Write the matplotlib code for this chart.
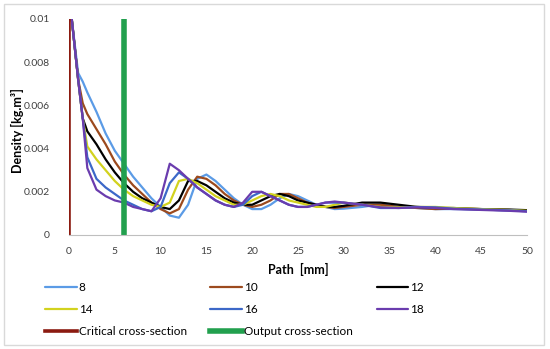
import matplotlib
matplotlib.use("Agg")
import matplotlib.pyplot as plt
from matplotlib.patches import Rectangle
from matplotlib.ticker import FuncFormatter

plt.rcParams["font.family"] = ["Lato", "DejaVu Sans"]

# path along the nozzle [mm]
path_mm = [0.3, 1, 1.5, 2, 3, 4, 5, 6, 7, 8, 9, 10, 11, 12, 13, 14, 15, 16, 17, 18,
           19, 20, 21, 22, 23, 24, 25, 26, 27, 28, 29, 30, 32, 34, 36, 38, 40, 42, 45, 48, 50]

dens_8 = [.0100, .0075, .0071, .0066, .0057, .0047, .0039, .0033, .0027, .0022, .0017, .0013, .0009,
          .0008, .0014, .0026, .0028, .0025, .0021, .0017, .0014, .0012, .0012, .0014, .0017, .0019,
          .0018, .0016, .0014, .0013, .0012, .00122, .0013, .00142, .0013, .00125, .0012, .0012,
          .00118, .00114, .0011]
dens_10 = [.0100, .0072, .0061, .0056, .0049, .0042, .0034, .0028, .0023, .0019, .0015, .0012, .0010,
           .0012, .0021, .0027, .0026, .0023, .0019, .0016, .0014, .0013, .0014, .0016, .0019, .0019,
           .0017, .0015, .0014, .0013, .00125, .0013, .0014, .0014, .0013, .00125, .0012, .00122,
           .0012, .00116, .00112]
dens_12 = [.0100, .0072, .0054, .0048, .0042, .0035, .0029, .0024, .0020, .0017, .0015, .0013, .0012,
           .0016, .0025, .0025, .0023, .0020, .0017, .0015, .0014, .0014, .0016, .0018, .0019, .0018,
           .0016, .0015, .0014, .0013, .0013, .00135, .0015, .0015, .0014, .0013, .00125, .00125,
           .0012, .00118, .00115]
dens_14 = [.0100, .0072, .0054, .0041, .0035, .0030, .0025, .0021, .0018, .0016, .0014, .0013, .0015,
           .0025, .0026, .0024, .0021, .0018, .0016, .0014, .0014, .0016, .0018, .0019, .0018, .0016,
           .0015, .0014, .0013, .0013, .0014, .0015, .0014, .0013, .00128, .0013, .0013, .00125,
           .0012, .00116, .00112]
dens_16 = [.0100, .0072, .0054, .0036, .0026, .0022, .0019, .0016, .0014, .0012, .0011, .0013, .0024,
           .0029, .0026, .0022, .0019, .0016, .0014, .0013, .0014, .0018, .0020, .0018, .0016, .0014,
           .0013, .0013, .0014, .0015, .0015, .0015, .0014, .00125, .00125, .0013, .00128, .00122,
           .00118, .00114, .0011]
dens_18 = [.0100, .0072, .0054, .0031, .0021, .0018, .0016, .0015, .0013, .0012, .0011, .0017, .0033,
           .0030, .0026, .0022, .0019, .0016, .0014, .0013, .0015, .0020, .0020, .0018, .0016, .0014,
           .0013, .0013, .0014, .0015, .00155, .0015, .0014, .00128, .00125, .00128, .00125, .0012,
           .00116, .00112, .00108]

series = {"8": dens_8, "10": dens_10, "12": dens_12, "14": dens_14, "16": dens_16, "18": dens_18}
colors = {"8": "#5b9be6", "10": "#9c4a1e", "12": "#000000",
          "14": "#d2d21e", "16": "#3c68c8", "18": "#6a3cae"}

critical_x = [0, 0]
output_x = [6, 6]
section_y = [0, 0.01]

fig = plt.figure(figsize=(5.5, 3.49), dpi=100)
ax = fig.add_axes([69 / 550, 1 - 235 / 349, (527 - 69) / 550, (235 - 19) / 349])

handles = {}
for name, vals in series.items():
    handles[name], = ax.plot(path_mm, vals, color=colors[name], lw=1.6,
                             solid_capstyle="round", solid_joinstyle="round", label=name)
handles["crit"], = ax.plot(critical_x, section_y, color="#8b1a10", lw=2.6, label="Critical cross-section")
handles["out"], = ax.plot(output_x, section_y, color="#22a04e", lw=4.0, label="Output cross-section")

ax.set_xlim(0, 50)
ax.set_ylim(0, 0.01)
ax.set_xticks(range(0, 51, 5))
ax.set_yticks([0, 0.002, 0.004, 0.006, 0.008, 0.01])
ax.yaxis.set_major_formatter(FuncFormatter(lambda v, p: "0" if v == 0 else f"{v:g}"))
for s in ["top", "right", "left"]:
    ax.spines[s].set_visible(False)
ax.spines["bottom"].set_color("#bfbfbf")
ax.tick_params(axis="both", length=0, labelsize=7.5, colors="#404040")
ax.tick_params(axis="y", pad=14)
ax.tick_params(axis="x", pad=9)

ax.set_xlabel("Path  [mm]", fontsize=9, fontweight="bold", labelpad=5)
fig.text(17 / 550, 1 - 131 / 349, "Density [kg.m³]", rotation=90, fontsize=9,
         fontweight="bold", ha="center", va="center")

order = ["8", "14", "crit", "10", "16", "out", "12", "18"]
fig.legend([handles[k] for k in order], [handles[k].get_label() for k in order],
           loc="upper left", bbox_to_anchor=(45 / 550, 1 - 282 / 349), ncol=3,
           frameon=False, fontsize=8.5, handlelength=2.7, handletextpad=0.15,
           columnspacing=2.0, labelspacing=0.95, borderpad=0, borderaxespad=0)

fig.patches.append(Rectangle((4 / 550, 1 - 345 / 349), 540 / 550, 341 / 349,
                             transform=fig.transFigure, fill=False, edgecolor="#d9d9d9", lw=1))

fig.savefig("out.png", dpi=100)
